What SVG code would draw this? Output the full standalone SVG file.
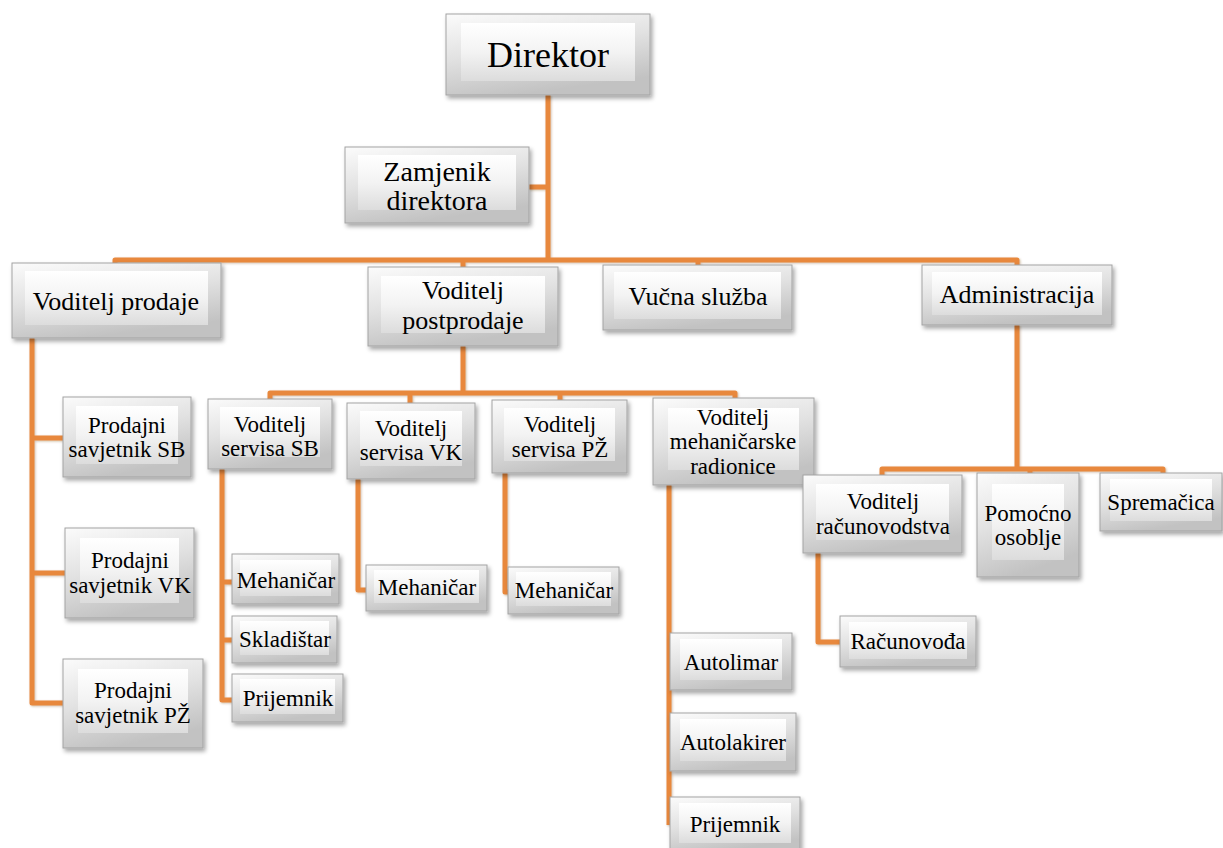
<svg xmlns="http://www.w3.org/2000/svg" width="1223" height="848" viewBox="0 0 1223 848">
<style>
.o{fill:url(#gFrame);stroke:#a3a3a3;stroke-width:1;filter:url(#sh)}
.i{fill:url(#gFace)}
text{fill:#000;text-anchor:middle}
.t36{font-size:36px}.t28{font-size:28px}.t26{font-size:26px}.t23{font-size:23px}
.c path{fill:none;stroke:#E8883C;stroke-width:5;stroke-linejoin:round;stroke-linecap:butt}
</style>
<defs>
<linearGradient id="gFrame" x1="0" y1="0" x2="0.35" y2="1">
<stop offset="0" stop-color="#fbfbfb"/><stop offset="0.5" stop-color="#e2e2e2"/><stop offset="1" stop-color="#c2c2c2"/>
</linearGradient>
<linearGradient id="gFace" x1="0" y1="0" x2="0" y2="1">
<stop offset="0" stop-color="#ffffff"/><stop offset="0.5" stop-color="#f3f3f3"/><stop offset="1" stop-color="#dcdcdc"/>
</linearGradient>
<filter id="sh" x="-10%" y="-10%" width="125%" height="135%">
<feDropShadow dx="2" dy="3" stdDeviation="2" flood-color="#000" flood-opacity="0.35"/>
</filter>
<filter id="lsh" x="-5%" y="-5%" width="110%" height="110%">
<feDropShadow dx="1" dy="1" stdDeviation="0.8" flood-color="#7a4a1e" flood-opacity="0.35"/>
</filter>
</defs>
<rect width="1223" height="848" fill="#fff"/>
<g id="connectors" class="c" filter="url(#lsh)">
<path d="M548,95 V260"/>
<path d="M529,187 H548"/>
<path d="M115,264 V260 H1017 V266"/>
<path d="M463,260 V268"/>
<path d="M698,260 V266"/>
<path d="M32,338 V703 H64"/>
<path d="M32,438 H63"/>
<path d="M32,573 H65"/>
<path d="M463,346 V393"/>
<path d="M270,400 V393 H735 V399"/>
<path d="M410,393 V404"/>
<path d="M560,393 V401"/>
<path d="M222,469 V700 H233"/>
<path d="M222,582 H233"/>
<path d="M222,640 H233"/>
<path d="M358,479 V590 H367"/>
<path d="M505,473 V592 H509"/>
<path d="M669,485 V825"/>
<path d="M1017,325 V469"/>
<path d="M882,476 V469 H1163 V474"/>
<path d="M1030,469 V474"/>
<path d="M818,553 V642 H841"/>
</g>
<g font-family="Liberation Serif, Times New Roman, serif">
<g id="n-direktor"><rect class="o" x="446" y="14" width="204" height="81"/><rect class="i" x="461" y="23" width="174" height="58"/><text class="t36" x="548" y="67">Direktor</text></g>
<g id="n-zamjenik"><rect class="o" x="345" y="147" width="184" height="76"/><rect class="i" x="358" y="155" width="158" height="55"/><text class="t28" x="437" y="181">Zamjenik</text><text class="t28" x="437" y="210">direktora</text></g>
<g id="n-voditelj-prodaje"><rect class="o" x="12" y="263" width="209" height="75"/><rect class="i" x="25" y="271" width="183" height="54"/><text class="t26" x="116" y="310">Voditelj prodaje</text></g>
<g id="n-voditelj-postprodaje"><rect class="o" x="368" y="267" width="190" height="79"/><rect class="i" x="381" y="276" width="164" height="57"/><text class="t26" x="463" y="299">Voditelj</text><text class="t26" x="463" y="329">postprodaje</text></g>
<g id="n-vucna"><rect class="o" x="603" y="265" width="189" height="65"/><rect class="i" x="614" y="272" width="167" height="47"/><text class="t26" x="698" y="305">Vučna služba</text></g>
<g id="n-administracija"><rect class="o" x="922" y="265" width="190" height="60"/><rect class="i" x="932" y="272" width="170" height="43"/><text class="t26" x="1017" y="303">Administracija</text></g>
<g id="n-ps-sb"><rect class="o" x="63" y="397" width="128" height="80"/><rect class="i" x="76" y="406" width="102" height="58"/><text class="t23" x="127" y="433">Prodajni</text><text class="t23" x="127" y="457">savjetnik SB</text></g>
<g id="n-ps-vk"><rect class="o" x="65" y="528" width="129" height="90"/><rect class="i" x="80" y="538" width="99" height="65"/><text class="t23" x="130" y="568">Prodajni</text><text class="t23" x="130" y="593">savjetnik VK</text></g>
<g id="n-ps-pz"><rect class="o" x="63" y="659" width="140" height="89"/><rect class="i" x="78" y="669" width="110" height="64"/><text class="t23" x="133" y="698">Prodajni</text><text class="t23" x="133" y="723">savjetnik PŽ</text></g>
<g id="n-vs-sb"><rect class="o" x="208" y="399" width="124" height="70"/><rect class="i" x="220" y="407" width="100" height="50"/><text class="t23" x="270" y="432">Voditelj</text><text class="t23" x="270" y="456">servisa SB</text></g>
<g id="n-vs-vk"><rect class="o" x="347" y="403" width="128" height="76"/><rect class="i" x="360" y="411" width="102" height="55"/><text class="t23" x="411" y="436">Voditelj</text><text class="t23" x="411" y="460">servisa VK</text></g>
<g id="n-vs-pz"><rect class="o" x="492" y="400" width="135" height="73"/><rect class="i" x="504" y="408" width="111" height="53"/><text class="t23" x="560" y="432">Voditelj</text><text class="t23" x="560" y="457">servisa PŽ</text></g>
<g id="n-v-meh"><rect class="o" x="653" y="398" width="161" height="87"/><rect class="i" x="668" y="408" width="131" height="62"/><text class="t23" x="733" y="425">Voditelj</text><text class="t23" x="733" y="449">mehaničarske</text><text class="t23" x="733" y="474">radionice</text></g>
<g id="n-meh-sb"><rect class="o" x="232" y="554" width="107" height="50"/><rect class="i" x="240" y="560" width="91" height="36"/><text class="t23" x="286" y="588">Mehaničar</text></g>
<g id="n-skladistar"><rect class="o" x="232" y="616" width="105" height="47"/><rect class="i" x="240" y="621" width="89" height="34"/><text class="t23" x="285" y="647">Skladištar</text></g>
<g id="n-prijemnik-sb"><rect class="o" x="232" y="674" width="111" height="48"/><rect class="i" x="240" y="679" width="95" height="35"/><text class="t23" x="288" y="706">Prijemnik</text></g>
<g id="n-meh-vk"><rect class="o" x="366" y="565" width="121" height="46"/><rect class="i" x="374" y="570" width="105" height="33"/><text class="t23" x="427" y="595">Mehaničar</text></g>
<g id="n-meh-pz"><rect class="o" x="508" y="567" width="111" height="47"/><rect class="i" x="516" y="572" width="95" height="34"/><text class="t23" x="564" y="598">Mehaničar</text></g>
<g id="n-autolimar"><rect class="o" x="670" y="633" width="122" height="57"/><rect class="i" x="680" y="639" width="102" height="41"/><text class="t23" x="731" y="670">Autolimar</text></g>
<g id="n-autolakirer"><rect class="o" x="670" y="713" width="126" height="58"/><rect class="i" x="680" y="719" width="106" height="42"/><text class="t23" x="733" y="750">Autolakirer</text></g>
<g id="n-prijemnik-meh"><rect class="o" x="670" y="797" width="130" height="55"/><rect class="i" x="679" y="803" width="112" height="40"/><text class="t23" x="735" y="832">Prijemnik</text></g>
<g id="n-racunovodstvo"><rect class="o" x="803" y="475" width="159" height="78"/><rect class="i" x="816" y="484" width="133" height="56"/><text class="t23" x="883" y="509">Voditelj</text><text class="t23" x="883" y="534">računovodstva</text></g>
<g id="n-pomocno"><rect class="o" x="977" y="473" width="102" height="104"/><rect class="i" x="992" y="484" width="72" height="76"/><text class="t23" x="1028" y="521">Pomoćno</text><text class="t23" x="1028" y="545">osoblje</text></g>
<g id="n-spremacica"><rect class="o" x="1100" y="473" width="122" height="58"/><rect class="i" x="1110" y="479" width="102" height="42"/><text class="t23" x="1161" y="510">Spremačica</text></g>
<g id="n-racunovoda"><rect class="o" x="840" y="616" width="136" height="51"/><rect class="i" x="849" y="622" width="118" height="37"/><text class="t23" x="908" y="649">Računovođa</text></g>
</g>
</svg>
